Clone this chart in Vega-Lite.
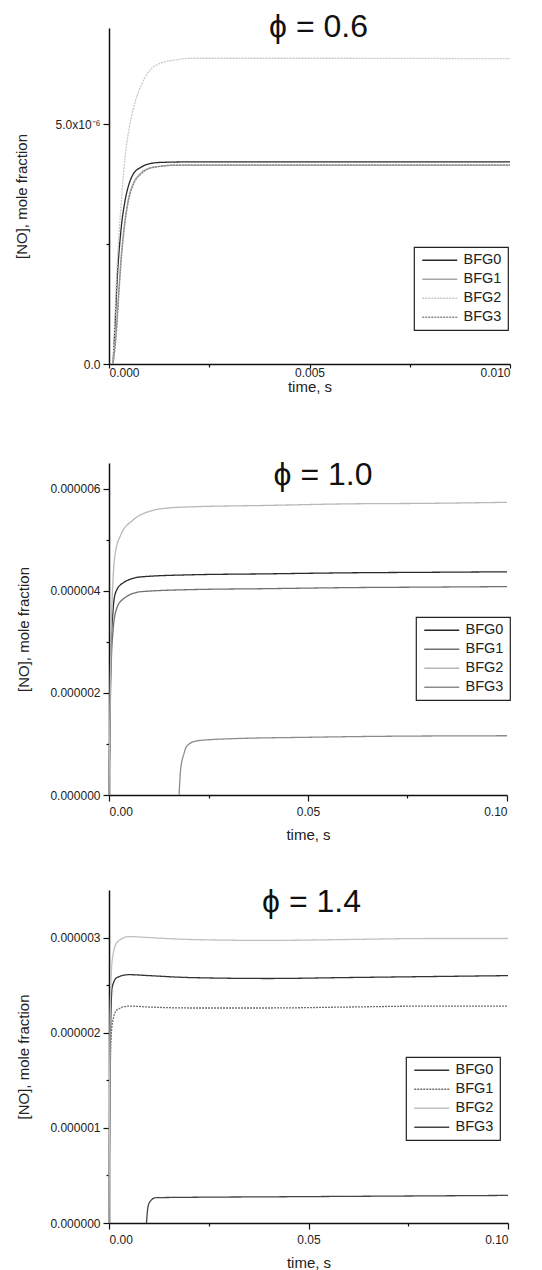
{
  "$schema": "https://vega.github.io/schema/vega-lite/v6.json",
  "background": "white",
  "padding": {"top": 11, "left": 14, "right": 5, "bottom": 5},
  "config": {
    "font": "Liberation Sans",
    "view": {"stroke": null},
    "axis": {"domainColor": "#111", "domainWidth": 1.5, "tickColor": "#111", "tickWidth": 1.2, "labelColor": "#222", "titleColor": "#222", "labelFontSize": 12, "titleFontSize": 15, "titleFontWeight": "normal", "grid": false, "labelFont": "Liberation Sans", "titleFont": "Liberation Sans"},
    "legend": {"title": null, "orient": "none", "strokeColor": "#222", "strokeWidth": 1.2, "padding": 6, "symbolType": "M-1,0H6", "symbolSize": 100, "symbolStrokeWidth": 1.5, "symbolFillColor": "transparent", "labelFontSize": 14.5, "labelOffset": 29, "rowPadding": 4, "labelColor": "#222", "labelFont": "Liberation Sans"},
    "line": {"strokeWidth": 1.3, "interpolate": "monotone"},
    "title": {"font": "Liberation Sans", "fontSize": 32, "fontWeight": "normal", "color": "#111", "anchor": "middle"}
  },
  "datasets": {
    "p06": [
      {"s": "BFG0", "t": 0.0001, "v": 0}, {"s": "BFG0", "t": 0.00015, "v": 0.8e-6}, {"s": "BFG0", "t": 0.0002, "v": 1.7e-6}, {"s": "BFG0", "t": 0.0003, "v": 2.8e-6}, {"s": "BFG0", "t": 0.0004, "v": 3.4e-6}, {"s": "BFG0", "t": 0.0005, "v": 3.75e-6}, {"s": "BFG0", "t": 0.0006, "v": 3.95e-6}, {"s": "BFG0", "t": 0.0008, "v": 4.1e-6}, {"s": "BFG0", "t": 0.001, "v": 4.17e-6}, {"s": "BFG0", "t": 0.0013, "v": 4.2e-6}, {"s": "BFG0", "t": 0.002, "v": 4.21e-6}, {"s": "BFG0", "t": 0.005, "v": 4.21e-6}, {"s": "BFG0", "t": 0.0075, "v": 4.21e-6}, {"s": "BFG0", "t": 0.01, "v": 4.21e-6},
      {"s": "BFG1", "t": 0.0001, "v": 0}, {"s": "BFG1", "t": 0.00017, "v": 0.6e-6}, {"s": "BFG1", "t": 0.00025, "v": 1.6e-6}, {"s": "BFG1", "t": 0.0003, "v": 2.2e-6}, {"s": "BFG1", "t": 0.0004, "v": 3.0e-6}, {"s": "BFG1", "t": 0.0005, "v": 3.5e-6}, {"s": "BFG1", "t": 0.0006, "v": 3.75e-6}, {"s": "BFG1", "t": 0.0008, "v": 3.98e-6}, {"s": "BFG1", "t": 0.001, "v": 4.08e-6}, {"s": "BFG1", "t": 0.0013, "v": 4.12e-6}, {"s": "BFG1", "t": 0.0017, "v": 4.14e-6}, {"s": "BFG1", "t": 0.005, "v": 4.14e-6}, {"s": "BFG1", "t": 0.01, "v": 4.14e-6},
      {"s": "BFG2", "t": 0.0001, "v": 0}, {"s": "BFG2", "t": 0.00015, "v": 1.0e-6}, {"s": "BFG2", "t": 0.0002, "v": 2.0e-6}, {"s": "BFG2", "t": 0.0003, "v": 3.3e-6}, {"s": "BFG2", "t": 0.0004, "v": 4.3e-6}, {"s": "BFG2", "t": 0.0005, "v": 4.9e-6}, {"s": "BFG2", "t": 0.0006, "v": 5.3e-6}, {"s": "BFG2", "t": 0.0008, "v": 5.8e-6}, {"s": "BFG2", "t": 0.001, "v": 6.1e-6}, {"s": "BFG2", "t": 0.0013, "v": 6.27e-6}, {"s": "BFG2", "t": 0.0017, "v": 6.34e-6}, {"s": "BFG2", "t": 0.002, "v": 6.37e-6}, {"s": "BFG2", "t": 0.005, "v": 6.37e-6}, {"s": "BFG2", "t": 0.01, "v": 6.36e-6},
      {"s": "BFG3", "t": 0.0001, "v": 0}, {"s": "BFG3", "t": 0.00018, "v": 0.6e-6}, {"s": "BFG3", "t": 0.00025, "v": 1.5e-6}, {"s": "BFG3", "t": 0.0003, "v": 2.1e-6}, {"s": "BFG3", "t": 0.0004, "v": 2.95e-6}, {"s": "BFG3", "t": 0.0005, "v": 3.45e-6}, {"s": "BFG3", "t": 0.0006, "v": 3.72e-6}, {"s": "BFG3", "t": 0.0008, "v": 3.96e-6}, {"s": "BFG3", "t": 0.001, "v": 4.07e-6}, {"s": "BFG3", "t": 0.0013, "v": 4.12e-6}, {"s": "BFG3", "t": 0.0017, "v": 4.15e-6}, {"s": "BFG3", "t": 0.005, "v": 4.15e-6}, {"s": "BFG3", "t": 0.01, "v": 4.15e-6}
    ],
    "p10": [
      {"s": "BFG0", "t": 0, "v": 0}, {"s": "BFG0", "t": 0.0005, "v": 2.8e-6}, {"s": "BFG0", "t": 0.001, "v": 3.6e-6}, {"s": "BFG0", "t": 0.0016, "v": 3.95e-6}, {"s": "BFG0", "t": 0.0033, "v": 4.14e-6}, {"s": "BFG0", "t": 0.008, "v": 4.27e-6}, {"s": "BFG0", "t": 0.02, "v": 4.31e-6}, {"s": "BFG0", "t": 0.04, "v": 4.33e-6}, {"s": "BFG0", "t": 0.06, "v": 4.35e-6}, {"s": "BFG0", "t": 0.08, "v": 4.36e-6}, {"s": "BFG0", "t": 0.1, "v": 4.37e-6},
      {"s": "BFG1", "t": 0, "v": 0}, {"s": "BFG1", "t": 0.0005, "v": 2.4e-6}, {"s": "BFG1", "t": 0.001, "v": 3.2e-6}, {"s": "BFG1", "t": 0.0018, "v": 3.62e-6}, {"s": "BFG1", "t": 0.0033, "v": 3.82e-6}, {"s": "BFG1", "t": 0.008, "v": 3.98e-6}, {"s": "BFG1", "t": 0.02, "v": 4.02e-6}, {"s": "BFG1", "t": 0.04, "v": 4.04e-6}, {"s": "BFG1", "t": 0.06, "v": 4.06e-6}, {"s": "BFG1", "t": 0.08, "v": 4.07e-6}, {"s": "BFG1", "t": 0.1, "v": 4.08e-6},
      {"s": "BFG2", "t": 0, "v": 0}, {"s": "BFG2", "t": 0.0005, "v": 3.0e-6}, {"s": "BFG2", "t": 0.001, "v": 4.2e-6}, {"s": "BFG2", "t": 0.0015, "v": 4.7e-6}, {"s": "BFG2", "t": 0.003, "v": 5.1e-6}, {"s": "BFG2", "t": 0.006, "v": 5.38e-6}, {"s": "BFG2", "t": 0.01, "v": 5.55e-6}, {"s": "BFG2", "t": 0.015, "v": 5.62e-6}, {"s": "BFG2", "t": 0.02, "v": 5.64e-6}, {"s": "BFG2", "t": 0.04, "v": 5.67e-6}, {"s": "BFG2", "t": 0.06, "v": 5.7e-6}, {"s": "BFG2", "t": 0.08, "v": 5.71e-6}, {"s": "BFG2", "t": 0.1, "v": 5.73e-6},
      {"s": "BFG3", "t": 0.0176, "v": 0}, {"s": "BFG3", "t": 0.018, "v": 0.5e-6}, {"s": "BFG3", "t": 0.0188, "v": 0.8e-6}, {"s": "BFG3", "t": 0.0195, "v": 0.95e-6}, {"s": "BFG3", "t": 0.022, "v": 1.06e-6}, {"s": "BFG3", "t": 0.03, "v": 1.1e-6}, {"s": "BFG3", "t": 0.05, "v": 1.13e-6}, {"s": "BFG3", "t": 0.07, "v": 1.15e-6}, {"s": "BFG3", "t": 0.1, "v": 1.16e-6}
    ],
    "p14": [
      {"s": "BFG0", "t": 0, "v": 0}, {"s": "BFG0", "t": 0.0003, "v": 1.8e-6}, {"s": "BFG0", "t": 0.0008, "v": 2.48e-6}, {"s": "BFG0", "t": 0.002, "v": 2.58e-6}, {"s": "BFG0", "t": 0.005, "v": 2.61e-6}, {"s": "BFG0", "t": 0.01, "v": 2.6e-6}, {"s": "BFG0", "t": 0.02, "v": 2.58e-6}, {"s": "BFG0", "t": 0.04, "v": 2.57e-6}, {"s": "BFG0", "t": 0.06, "v": 2.58e-6}, {"s": "BFG0", "t": 0.08, "v": 2.59e-6}, {"s": "BFG0", "t": 0.1, "v": 2.6e-6},
      {"s": "BFG1", "t": 0, "v": 0}, {"s": "BFG1", "t": 0.0003, "v": 1.6e-6}, {"s": "BFG1", "t": 0.0008, "v": 2.09e-6}, {"s": "BFG1", "t": 0.002, "v": 2.24e-6}, {"s": "BFG1", "t": 0.005, "v": 2.28e-6}, {"s": "BFG1", "t": 0.01, "v": 2.27e-6}, {"s": "BFG1", "t": 0.02, "v": 2.26e-6}, {"s": "BFG1", "t": 0.04, "v": 2.26e-6}, {"s": "BFG1", "t": 0.06, "v": 2.27e-6}, {"s": "BFG1", "t": 0.08, "v": 2.28e-6}, {"s": "BFG1", "t": 0.1, "v": 2.28e-6},
      {"s": "BFG2", "t": 0, "v": 0}, {"s": "BFG2", "t": 0.0003, "v": 2.2e-6}, {"s": "BFG2", "t": 0.0008, "v": 2.76e-6}, {"s": "BFG2", "t": 0.002, "v": 2.95e-6}, {"s": "BFG2", "t": 0.005, "v": 3.01e-6}, {"s": "BFG2", "t": 0.01, "v": 3.0e-6}, {"s": "BFG2", "t": 0.02, "v": 2.98e-6}, {"s": "BFG2", "t": 0.04, "v": 2.97e-6}, {"s": "BFG2", "t": 0.06, "v": 2.98e-6}, {"s": "BFG2", "t": 0.08, "v": 2.99e-6}, {"s": "BFG2", "t": 0.1, "v": 2.99e-6},
      {"s": "BFG3", "t": 0.0094, "v": 0}, {"s": "BFG3", "t": 0.0097, "v": 0.15e-6}, {"s": "BFG3", "t": 0.0102, "v": 0.22e-6}, {"s": "BFG3", "t": 0.0117, "v": 0.266e-6}, {"s": "BFG3", "t": 0.02, "v": 0.27e-6}, {"s": "BFG3", "t": 0.04, "v": 0.275e-6}, {"s": "BFG3", "t": 0.06, "v": 0.28e-6}, {"s": "BFG3", "t": 0.08, "v": 0.285e-6}, {"s": "BFG3", "t": 0.1, "v": 0.29e-6}
    ]
  },
  "columns": 1,
  "align": "none",
  "spacing": 65,
  "resolve": {"scale": {"color": "independent", "strokeDash": "independent", "x": "independent", "y": "independent"}, "legend": {"color": "independent", "strokeDash": "independent"}},
  "concat": [
    {
      "width": 401,
      "height": 336,
      "title": {"text": "ϕ = 0.6", "offset": -16, "dx": 9},
      "data": {"name": "p06"},
      "mark": {"type": "line"},
      "encoding": {
        "x": {"field": "t", "type": "quantitative", "scale": {"domain": [0, 0.01], "nice": false},
          "axis": {"title": "time, s", "values": [0, 0.0025, 0.005, 0.0075, 0.01], "labelExpr": "round(datum.value*400) % 2 == 0 ? format(datum.value, '.3f') : ''", "tickSize": {"condition": {"test": "round(datum.value*400) % 2 == 0", "value": 4}, "value": 3}, "labelPadding": -1, "titlePadding": 1}},
        "y": {"field": "v", "type": "quantitative", "scale": {"domain": [0, 7e-6], "nice": false},
          "axis": {"title": "[NO], mole fraction", "values": [0, 2.5e-6, 5e-6], "labelExpr": "datum.value == 0 ? '0.0' : (datum.value > 4e-6 ? '5.0x10⁻⁶' : '')", "tickSize": {"condition": {"test": "datum.value == 0 || datum.value > 4e-6", "value": 6}, "value": 3}, "labelPadding": 3, "titlePadding": 26}},
        "color": {"field": "s", "type": "nominal", "scale": {"domain": ["BFG0", "BFG1", "BFG2", "BFG3"], "range": ["#2a2a2a", "#a8a8a8", "#c8c8c8", "#8a8a8a"]}, "legend": {"legendX": 305, "legendY": 219}},
        "strokeDash": {"field": "s", "type": "nominal", "scale": {"domain": ["BFG0", "BFG1", "BFG2", "BFG3"], "range": [[1, 0], [1, 0], [2, 1], [2, 1]]}, "legend": {"legendX": 305, "legendY": 219}}
      }
    },
    {
      "spacing": 44,
      "resolve": {"scale": {"color": "independent", "strokeDash": "independent", "x": "independent", "y": "independent"}, "legend": {"color": "independent", "strokeDash": "independent"}},
      "vconcat": [
        {
          "width": 398,
          "height": 332,
          "title": {"text": "ϕ = 1.0", "offset": -29, "dx": 15},
          "data": {"name": "p10"},
          "mark": {"type": "line"},
          "encoding": {
            "x": {"field": "t", "type": "quantitative", "scale": {"domain": [0, 0.1], "nice": false},
              "axis": {"title": "time, s", "values": [0, 0.025, 0.05, 0.075, 0.1], "labelExpr": "round(datum.value*40) % 2 == 0 ? format(datum.value, '.2f') : ''", "tickSize": {"condition": {"test": "round(datum.value*40) % 2 == 0", "value": 6}, "value": 3}, "labelPadding": 5, "titlePadding": 10}},
            "y": {"field": "v", "type": "quantitative", "scale": {"domain": [0, 6.5e-6], "nice": false},
              "axis": {"title": "[NO], mole fraction", "values": [0, 1e-6, 2e-6, 3e-6, 4e-6, 5e-6, 6e-6], "labelExpr": "round(datum.value*1e6) % 2 == 0 ? format(datum.value, '.6f') : ''", "tickSize": {"condition": {"test": "round(datum.value*1e6) % 2 == 0", "value": 6}, "value": 3}, "labelPadding": 3, "titlePadding": 18}},
            "color": {"field": "s", "type": "nominal", "scale": {"domain": ["BFG0", "BFG1", "BFG2", "BFG3"], "range": ["#2a2a2a", "#707070", "#b8b8b8", "#8c8c8c"]}, "legend": {"legendX": 307, "legendY": 154}},
            "strokeDash": {"field": "s", "type": "nominal", "scale": {"domain": ["BFG0", "BFG1", "BFG2", "BFG3"], "range": [[1, 0], [1, 0], [1, 0], [1, 0]]}, "legend": {"legendX": 307, "legendY": 154}}
          }
        },
        {
          "width": 399,
          "height": 333,
          "title": {"text": "ϕ = 1.4", "offset": -29, "dx": 3},
          "data": {"name": "p14"},
          "mark": {"type": "line"},
          "encoding": {
            "x": {"field": "t", "type": "quantitative", "scale": {"domain": [0, 0.1], "nice": false},
              "axis": {"title": "time, s", "values": [0, 0.025, 0.05, 0.075, 0.1], "labelExpr": "round(datum.value*40) % 2 == 0 ? format(datum.value, '.2f') : ''", "tickSize": {"condition": {"test": "round(datum.value*40) % 2 == 0", "value": 6}, "value": 3}, "labelPadding": 5, "titlePadding": 10}},
            "y": {"field": "v", "type": "quantitative", "scale": {"domain": [0, 3.5e-6], "nice": false},
              "axis": {"title": "[NO], mole fraction", "values": [0, 0.5e-6, 1e-6, 1.5e-6, 2e-6, 2.5e-6, 3e-6], "labelExpr": "round(datum.value*2e6) % 2 == 0 ? format(datum.value, '.6f') : ''", "tickSize": {"condition": {"test": "round(datum.value*2e6) % 2 == 0", "value": 6}, "value": 3}, "labelPadding": 3, "titlePadding": 18}},
            "color": {"field": "s", "type": "nominal", "scale": {"domain": ["BFG0", "BFG1", "BFG2", "BFG3"], "range": ["#333333", "#707070", "#c0c0c0", "#444444"]}, "legend": {"legendX": 297, "legendY": 167}},
            "strokeDash": {"field": "s", "type": "nominal", "scale": {"domain": ["BFG0", "BFG1", "BFG2", "BFG3"], "range": [[1, 0], [2, 1], [1, 0], [1, 0]]}, "legend": {"legendX": 297, "legendY": 167}}
          }
        }
      ]
    }
  ]
}
